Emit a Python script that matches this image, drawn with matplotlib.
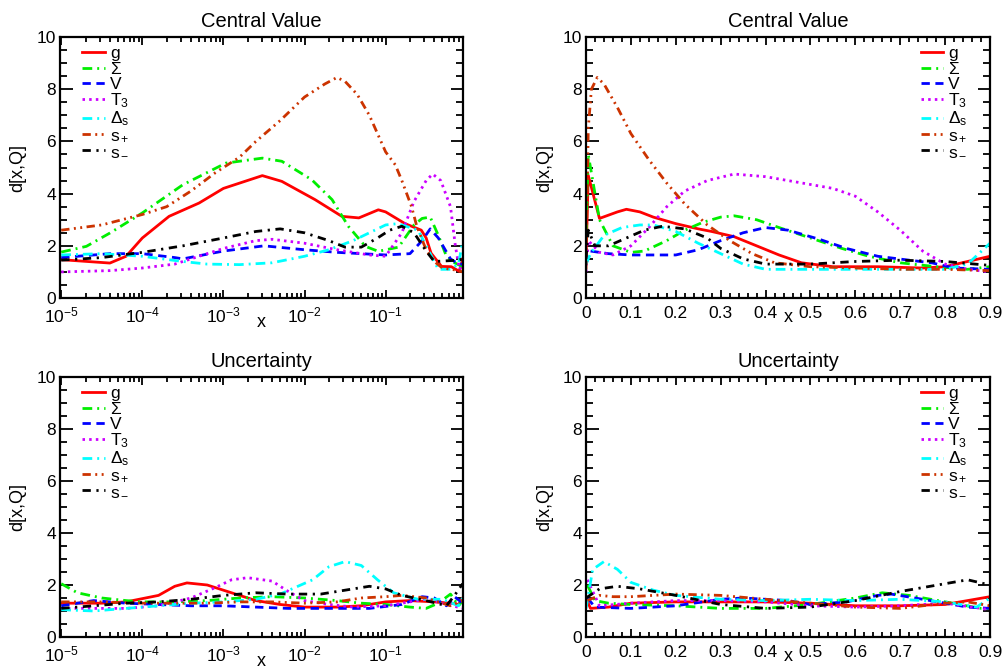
import numpy as np
import matplotlib
matplotlib.use("Agg")
import matplotlib.pyplot as plt
from matplotlib.ticker import MultipleLocator, LogLocator, NullFormatter

plt.rcParams['font.family'] = ['Liberation Sans', 'DejaVu Sans']
plt.rcParams['mathtext.fontset'] = 'custom'
plt.rcParams['mathtext.rm'] = 'Liberation Sans'
plt.rcParams['mathtext.it'] = 'Liberation Sans:italic'

labels = ['g', r'$\Sigma$', 'V', r'T$_3$', r'$\Delta_{\mathrm{s}}$', r's$_+$', r's$_-$']
colors = ['#ff0000', '#00ee00', '#0000ff', '#cc00ff', '#00ffff', '#cc3300', '#000000']
styles = ['-', (0, (3.5, 1.8, 0.7, 1.8)), (0, (3, 2)), (0, (0.9, 1.5)),
          (0, (3.5, 1.8, 0.7, 1.8)), (0, (3, 1.6, 0.7, 1.6, 0.7, 1.6)), (0, (3, 2, 0.8, 2))]

# ---- central value, log x (x given as log10) ----
cv_log = {
    'g': ([-5, -4.4, -4.2, -4.0, -3.67, -3.3, -3.0, -2.52, -2.28, -1.87, -1.54, -1.33, -1.09,
           -1.0, -0.76, -0.56, -0.5, -0.44, -0.31, -0.19, -0.09, -0.05],
          [1.47, 1.34, 1.6, 2.3, 3.13, 3.64, 4.2, 4.69, 4.47, 3.77, 3.13, 3.07, 3.38,
           3.3, 2.85, 2.6, 2.3, 1.72, 1.21, 1.2, 1.02, 1.5]),
    'S': ([-5, -4.69, -4.4, -4.0, -3.5, -2.97, -2.52, -2.28, -1.91, -1.66, -1.46, -1.25, -1.09,
           -0.84, -0.65, -0.55, -0.45, -0.35, -0.25, -0.15, -0.05],
          [1.76, 1.98, 2.49, 3.26, 4.34, 5.17, 5.36, 5.24, 4.53, 3.77, 2.75, 1.98, 1.79,
           1.95, 2.8, 3.05, 3.1, 2.4, 1.6, 1.35, 1.2]),
    'V': ([-5, -4.4, -4.0, -3.6, -3.5, -3.0, -2.5, -2.0, -1.6, -1.3, -1.0, -0.7, -0.55, -0.45,
           -0.35, -0.2, -0.1, -0.05],
          [1.55, 1.7, 1.7, 1.55, 1.5, 1.8, 2.0, 1.85, 1.75, 1.7, 1.65, 1.7, 2.2, 2.65,
           2.3, 1.5, 1.3, 1.3]),
    'T3': ([-5, -4.4, -4.0, -3.6, -3.4, -3.0, -2.6, -2.4, -2.0, -1.6, -1.2, -1.0, -0.8, -0.65,
            -0.5, -0.42, -0.32, -0.2, -0.14, -0.09, -0.05],
           [1.0, 1.05, 1.15, 1.3, 1.5, 1.9, 2.2, 2.25, 2.1, 1.85, 1.65, 1.6, 2.5, 3.7,
            4.5, 4.75, 4.5, 3.5, 2.0, 1.1, 1.3]),
    'Ds': ([-5, -4.5, -4.0, -3.5, -3.2, -2.8, -2.4, -2.0, -1.7, -1.4, -1.2, -1.0, -0.85, -0.6,
            -0.45, -0.35, -0.2, -0.1, -0.05],
           [1.65, 1.7, 1.6, 1.4, 1.3, 1.28, 1.35, 1.6, 1.85, 2.2, 2.5, 2.8, 2.85, 2.6,
            1.7, 1.1, 1.1, 1.3, 2.2]),
    'sp': ([-5, -4.5, -4.0, -3.7, -3.4, -3.1, -2.8, -2.6, -2.3, -2.0, -1.75, -1.6, -1.5, -1.35,
            -1.2, -1.0, -0.88, -0.8, -0.68, -0.62, -0.5, -0.4, -0.3, -0.13, -0.05],
           [2.6, 2.8, 3.2, 3.5, 4.1, 4.8, 5.4, 6.0, 6.8, 7.7, 8.2, 8.45, 8.3, 7.8,
            7.0, 5.6, 5.1, 4.5, 3.5, 2.8, 1.84, 1.4, 1.15, 1.07, 1.0]),
    'sm': ([-5, -4.5, -4.0, -3.5, -3.0, -2.6, -2.3, -2.0, -1.7, -1.5, -1.3, -1.1, -0.95, -0.8,
            -0.65, -0.5, -0.4, -0.1, -0.05],
           [1.45, 1.55, 1.75, 2.0, 2.3, 2.55, 2.65, 2.5, 2.2, 1.95, 1.95, 2.3, 2.6, 2.75,
            2.5, 1.8, 1.4, 1.45, 1.5]),
}

# ---- central value, linear x ----
cv_lin = {
    'g': ([0.0, 0.005, 0.03, 0.07, 0.09, 0.12, 0.15, 0.2, 0.25, 0.28, 0.33, 0.38, 0.43, 0.48,
           0.55, 0.65, 0.75, 0.8, 0.85, 0.9],
          [1.5, 4.7, 3.05, 3.3, 3.4, 3.3, 3.1, 2.85, 2.65, 2.55, 2.35, 2.0, 1.65, 1.35,
           1.2, 1.2, 1.15, 1.2, 1.4, 1.6]),
    'S': ([0.0, 0.005, 0.03, 0.06, 0.1, 0.13, 0.18, 0.22, 0.26, 0.3, 0.33, 0.38, 0.43, 0.5,
           0.57, 0.63, 0.7, 0.78, 0.85, 0.9],
          [2.5, 5.5, 3.0, 2.0, 1.75, 1.8, 2.2, 2.6, 2.9, 3.1, 3.15, 3.0, 2.7, 2.3,
           1.9, 1.6, 1.35, 1.2, 1.1, 1.2]),
    'V': ([0.0, 0.01, 0.05, 0.1, 0.2, 0.25, 0.3, 0.35, 0.4, 0.45, 0.52, 0.58, 0.65, 0.72,
           0.77, 0.82, 0.9],
          [1.3, 1.8, 1.7, 1.65, 1.65, 1.85, 2.2, 2.5, 2.7, 2.6, 2.25, 1.9, 1.6, 1.45,
           1.35, 1.15, 1.1]),
    'T3': ([0.0, 0.005, 0.03, 0.06, 0.1, 0.14, 0.18, 0.22, 0.27, 0.33, 0.4, 0.45, 0.5, 0.55,
            0.6, 0.65, 0.7, 0.75, 0.8, 0.85, 0.9],
           [1.0, 2.2, 1.75, 1.65, 2.0, 2.7, 3.5, 4.1, 4.5, 4.75, 4.65, 4.5, 4.35, 4.2,
            3.9, 3.3, 2.6, 1.8, 1.3, 1.1, 1.0]),
    'Ds': ([0.0, 0.01, 0.04, 0.08, 0.12, 0.15, 0.2, 0.25, 0.3, 0.35, 0.4, 0.5, 0.6, 0.7,
            0.8, 0.85, 0.9],
           [1.3, 1.7, 2.4, 2.7, 2.8, 2.8, 2.55, 2.1, 1.7, 1.3, 1.1, 1.1, 1.1, 1.1,
            1.1, 1.3, 2.1]),
    'sp': ([0.0, 0.005, 0.012, 0.025, 0.04, 0.07, 0.1, 0.14, 0.18, 0.22, 0.27, 0.32, 0.37, 0.42,
            0.5, 0.6, 0.7, 0.8, 0.9],
           [1.1, 6.5, 8.0, 8.45, 8.2, 7.3, 6.3, 5.3, 4.4, 3.6, 2.8, 2.2, 1.7, 1.35,
            1.2, 1.15, 1.1, 1.1, 1.05]),
    'sm': ([0.0, 0.005, 0.02, 0.05, 0.09, 0.13, 0.17, 0.22, 0.27, 0.3, 0.35, 0.4, 0.5, 0.6,
            0.7, 0.8, 0.9],
           [1.5, 2.6, 2.0, 2.0, 2.3, 2.6, 2.75, 2.65, 2.3, 1.9, 1.5, 1.3, 1.3, 1.4,
            1.45, 1.4, 1.25]),
}

# ---- uncertainty, log x ----
un_log = {
    'g': ([-5, -4.5, -4.2, -3.8, -3.6, -3.45, -3.2, -2.9, -2.6, -2.3, -2.0, -1.6, -1.3, -1.0,
           -0.7, -0.4, -0.2, -0.1, -0.05],
          [1.3, 1.3, 1.35, 1.6, 1.95, 2.08, 2.0, 1.7, 1.4, 1.25, 1.15, 1.15, 1.2, 1.35,
           1.4, 1.35, 1.3, 1.25, 1.5]),
    'S': ([-5, -4.8, -4.5, -4.2, -4.0, -3.6, -3.2, -2.8, -2.4, -2.0, -1.6, -1.3, -1.0, -0.7,
           -0.5, -0.35, -0.2, -0.1, -0.05],
          [2.05, 1.7, 1.5, 1.4, 1.35, 1.35, 1.4, 1.5, 1.55, 1.5, 1.4, 1.3, 1.25, 1.15,
           1.1, 1.3, 1.65, 1.2, 1.4]),
    'V': ([-5, -4.6, -4.2, -3.8, -3.4, -3.0, -2.6, -2.2, -1.8, -1.4, -1.2, -0.8, -0.55, -0.4,
           -0.25, -0.15, -0.05],
          [1.2, 1.4, 1.3, 1.25, 1.2, 1.2, 1.15, 1.1, 1.1, 1.1, 1.1, 1.25, 1.55, 1.5,
           1.2, 1.55, 1.3]),
    'T3': ([-5, -4.5, -4.2, -3.8, -3.4, -3.1, -2.9, -2.7, -2.4, -2.2, -2.0, -1.7, -1.4, -1.0,
            -0.7, -0.5, -0.3, -0.05],
           [1.1, 1.1, 1.1, 1.2, 1.5, 1.9, 2.2, 2.28, 2.15, 1.75, 1.4, 1.25, 1.15, 1.2,
            1.35, 1.45, 1.3, 1.1]),
    'Ds': ([-5, -4.6, -4.2, -3.8, -3.4, -3.0, -2.6, -2.3, -1.9, -1.7, -1.5, -1.3, -1.1, -0.9,
            -0.6, -0.3, -0.1, -0.05],
           [1.05, 1.0, 1.1, 1.2, 1.3, 1.35, 1.45, 1.65, 2.2, 2.7, 2.9, 2.75, 2.2, 1.7,
            1.45, 1.45, 1.2, 1.5]),
    'sp': ([-5, -4.5, -4.0, -3.6, -3.2, -2.8, -2.4, -2.0, -1.6, -1.3, -1.0, -0.8, -0.5, -0.2,
            -0.05],
           [1.35, 1.35, 1.3, 1.3, 1.3, 1.35, 1.35, 1.3, 1.35, 1.5, 1.55, 1.6, 1.5, 1.2,
            1.4]),
    'sm': ([-5, -4.6, -4.2, -3.8, -3.4, -3.0, -2.6, -2.2, -1.8, -1.5, -1.2, -1.0, -0.8, -0.5,
            -0.25, -0.15, -0.05],
           [1.1, 1.2, 1.3, 1.35, 1.45, 1.6, 1.7, 1.65, 1.65, 1.8, 1.95, 1.85, 1.6, 1.4,
            1.2, 1.6, 2.05]),
}

# ---- uncertainty, linear x ----
un_lin = {
    'g': ([0.0, 0.01, 0.05, 0.1, 0.2, 0.3, 0.4, 0.5, 0.6, 0.7, 0.8, 0.85, 0.9],
          [1.5, 1.1, 1.15, 1.3, 1.35, 1.35, 1.35, 1.3, 1.2, 1.2, 1.25, 1.4, 1.55]),
    'S': ([0.003, 0.02, 0.05, 0.1, 0.2, 0.3, 0.4, 0.5, 0.6, 0.66, 0.72, 0.8, 0.88, 0.9],
          [2.0, 1.4, 1.3, 1.25, 1.2, 1.1, 1.1, 1.25, 1.5, 1.7, 1.6, 1.35, 1.1, 1.1]),
    'V': ([0.003, 0.02, 0.1, 0.2, 0.3, 0.35, 0.45, 0.5, 0.58, 0.65, 0.68, 0.75, 0.8, 0.85, 0.9],
          [1.5, 1.15, 1.1, 1.2, 1.45, 1.5, 1.4, 1.25, 1.35, 1.6, 1.65, 1.45, 1.3, 1.15, 1.1]),
    'T3': ([0.003, 0.03, 0.1, 0.2, 0.3, 0.4, 0.5, 0.6, 0.7, 0.8, 0.88, 0.9],
           [2.2, 1.2, 1.3, 1.4, 1.4, 1.35, 1.2, 1.15, 1.2, 1.3, 1.1, 1.05]),
    'Ds': ([0.0, 0.015, 0.04, 0.07, 0.1, 0.15, 0.2, 0.3, 0.4, 0.5, 0.6, 0.7, 0.8, 0.87, 0.9],
           [1.1, 2.6, 2.9, 2.6, 2.1, 1.8, 1.6, 1.45, 1.4, 1.45, 1.4, 1.45, 1.35, 1.15, 1.5]),
    'sp': ([0.003, 0.03, 0.06, 0.1, 0.2, 0.3, 0.4, 0.5, 0.6, 0.7, 0.8, 0.85, 0.9],
           [1.4, 1.6, 1.55, 1.55, 1.65, 1.6, 1.45, 1.3, 1.15, 1.1, 1.3, 1.35, 1.2]),
    'sm': ([0.0, 0.03, 0.07, 0.12, 0.2, 0.3, 0.4, 0.5, 0.6, 0.7, 0.8, 0.85, 0.9],
           [1.5, 1.85, 1.95, 1.85, 1.6, 1.25, 1.1, 1.15, 1.4, 1.75, 2.05, 2.2, 2.0]),
}

keys = ['g', 'S', 'V', 'T3', 'Ds', 'sp', 'sm']

fig = plt.figure(figsize=(10.05, 6.72), dpi=100)
ax_tl = fig.add_axes([0.0597, 0.5565, 0.401, 0.3884])
ax_tr = fig.add_axes([0.5831, 0.5565, 0.402, 0.3884])
ax_bl = fig.add_axes([0.0597, 0.0521, 0.401, 0.3869])
ax_br = fig.add_axes([0.5831, 0.0521, 0.402, 0.3869])


def draw(ax, data, logx, title, legend_loc, anchor):
    for k, c, ls, lab in zip(keys, colors, styles, labels):
        xs, ys = data[k]
        xs = np.array(xs, dtype=float)
        if logx:
            xs = 10 ** xs
        ax.plot(xs, ys, color=c, linestyle=ls, lw=2.0, label=lab)
    ax.set_ylim(0, 10)
    ax.yaxis.set_major_locator(MultipleLocator(2))
    ax.yaxis.set_minor_locator(MultipleLocator(0.5))
    if logx:
        ax.set_xscale('log')
        ax.set_xlim(10 ** -5.015, 0.9)
        ax.xaxis.set_major_locator(LogLocator(base=10, numticks=10))
        ax.xaxis.set_minor_locator(LogLocator(base=10, subs=np.arange(2, 10), numticks=20))
        ax.xaxis.set_minor_formatter(NullFormatter())
    else:
        ax.set_xlim(0, 0.9)
        ax.xaxis.set_minor_locator(MultipleLocator(0.02))
        ax.set_xticks(np.arange(0, 0.91, 0.1))
        ax.set_xticklabels(['0', '0.1', '0.2', '0.3', '0.4', '0.5', '0.6', '0.7', '0.8', '0.9'])
    ax.tick_params(which='both', direction='in', top=True, right=True, labelsize=12.5, pad=3,
                   width=1.3)
    ax.tick_params(axis='x', which='major', pad=5.5)
    ax.tick_params(axis='y', which='major', length=9)
    ax.tick_params(axis='y', which='minor', length=5)
    ax.tick_params(axis='x', which='major', length=6)
    ax.tick_params(axis='x', which='minor', length=3.5)
    for sp in ax.spines.values():
        sp.set_linewidth(1.6)
    ax.set_title(title, fontsize=14.5, pad=7)
    ax.set_xlabel('x', fontsize=13, labelpad=-8.5)
    ax.set_ylabel('d[x,Q]', fontsize=13, labelpad=7)
    ax.legend(loc=legend_loc, bbox_to_anchor=anchor, frameon=False, fontsize=12.5,
              handlelength=1.3, labelspacing=-0.02, handletextpad=0.3,
              borderaxespad=0.0, borderpad=0.0)


draw(ax_tl, cv_log, True, 'Central Value', 'upper left', (0.055, 0.965))
draw(ax_tr, cv_lin, False, 'Central Value', 'upper right', (0.945, 0.965))
draw(ax_bl, un_log, True, 'Uncertainty', 'upper left', (0.055, 0.965))
draw(ax_br, un_lin, False, 'Uncertainty', 'upper right', (0.945, 0.965))

fig.savefig('out.png', dpi=100)
